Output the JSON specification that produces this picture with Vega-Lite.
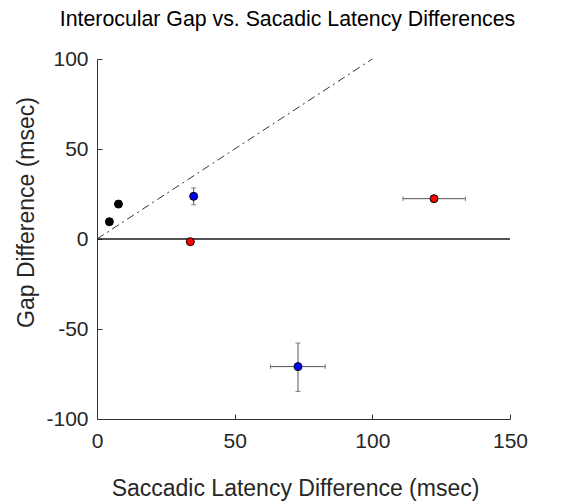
{
  "$schema": "https://vega.github.io/schema/vega-lite/v6.json",
  "width": 413,
  "height": 360,
  "autosize": {"type": "none"},
  "padding": {"left": 97, "top": 59, "right": 51, "bottom": 85},
  "background": "white",
  "title": {
    "text": "Interocular Gap vs. Sacadic Latency Differences",
    "font": "Liberation Sans",
    "fontSize": 21.3,
    "fontWeight": "normal",
    "color": "#000000",
    "anchor": "middle",
    "frame": "group",
    "baseline": "alphabetic",
    "offset": 34,
    "dx": -16,
    "dy": 33
  },
  "config": {
    "view": {"stroke": null},
    "font": "Liberation Sans",
    "axis": {
      "grid": false,
      "domainColor": "#333333",
      "domainWidth": 1,
      "tickColor": "#333333",
      "tickWidth": 1,
      "tickSize": -5,
      "labelFont": "Liberation Sans",
      "labelFontSize": 21,
      "labelColor": "#262626",
      "labelFlush": false,
      "labelOverlap": false,
      "titleFont": "Liberation Sans",
      "titleFontSize": 23,
      "titleFontWeight": "normal",
      "titleColor": "#262626"
    },
    "axisX": {
      "labelBaseline": "alphabetic",
      "labelPadding": 33,
      "titleBaseline": "alphabetic",
      "titleX": 198,
      "titleY": 76
    },
    "axisY": {
      "labelPadding": 14,
      "titleBaseline": "alphabetic",
      "titleX": -64,
      "titleY": 153
    }
  },
  "datasets": {
    "points": [
      {"group": "G1", "lat": 4.5, "gap": 9.6},
      {"group": "G1", "lat": 7.8, "gap": 19.4},
      {"group": "G2", "lat": 35.1, "gap": 23.7, "latLo": 34.0, "latHi": 36.2, "gapLo": 19.0, "gapHi": 28.4},
      {"group": "G3", "lat": 33.9, "gap": -1.5},
      {"group": "G3", "lat": 122.4, "gap": 22.4, "latLo": 111.1, "latHi": 133.8, "gapLo": 21.2, "gapHi": 23.6},
      {"group": "G2", "lat": 73.0, "gap": -70.9, "latLo": 63.0, "latHi": 82.9, "gapLo": -84.7, "gapHi": -57.8}
    ],
    "unity": [
      {"lat": 0, "gap": 0},
      {"lat": 100, "gap": 100}
    ],
    "zero": [
      {"lat": 0, "gap": 0},
      {"lat": 150, "gap": 0}
    ]
  },
  "layer": [
    {
      "data": {"name": "unity"},
      "mark": {"type": "line", "color": "#333333", "strokeWidth": 1, "strokeDash": [8, 4, 2, 4]},
      "encoding": {
        "x": {"field": "lat", "type": "quantitative", "title": "Saccadic Latency Difference (msec)", "scale": {"domain": [0, 150], "nice": false, "zero": false}},
        "y": {"field": "gap", "type": "quantitative", "title": "Gap Difference (msec)", "scale": {"domain": [-100, 100], "nice": false, "zero": false}}
      }
    },
    {
      "data": {"name": "zero"},
      "mark": {"type": "line", "color": "#1a1a1a", "strokeWidth": 1.6},
      "encoding": {
        "x": {"field": "lat", "type": "quantitative", "title": "Saccadic Latency Difference (msec)", "scale": {"domain": [0, 150], "nice": false, "zero": false}},
        "y": {"field": "gap", "type": "quantitative", "title": "Gap Difference (msec)", "scale": {"domain": [-100, 100], "nice": false, "zero": false}}
      }
    },
    {
      "data": {"name": "points"},
      "transform": [{"filter": "isValid(datum.gapLo)"}],
      "mark": {"type": "errorbar", "ticks": {"size": 5, "color": "#555555"}, "rule": {"color": "#555555", "strokeWidth": 1}},
      "encoding": {
        "x": {"field": "lat", "type": "quantitative", "title": "Saccadic Latency Difference (msec)", "scale": {"domain": [0, 150], "nice": false, "zero": false}},
        "y": {"field": "gapLo", "type": "quantitative", "title": "Gap Difference (msec)", "scale": {"domain": [-100, 100], "nice": false, "zero": false}},
        "y2": {"field": "gapHi"}
      }
    },
    {
      "data": {"name": "points"},
      "transform": [{"filter": "isValid(datum.latLo)"}],
      "mark": {"type": "errorbar", "ticks": {"size": 5, "color": "#555555"}, "rule": {"color": "#555555", "strokeWidth": 1}},
      "encoding": {
        "y": {"field": "gap", "type": "quantitative", "title": "Gap Difference (msec)", "scale": {"domain": [-100, 100], "nice": false, "zero": false}},
        "x": {"field": "latLo", "type": "quantitative", "title": "Saccadic Latency Difference (msec)", "scale": {"domain": [0, 150], "nice": false, "zero": false}},
        "x2": {"field": "latHi"}
      }
    },
    {
      "data": {"name": "points"},
      "mark": {"type": "point", "filled": true, "opacity": 1, "size": 64, "stroke": "#000000", "strokeWidth": 1},
      "encoding": {
        "x": {
          "field": "lat",
          "type": "quantitative",
          "title": "Saccadic Latency Difference (msec)",
          "scale": {"domain": [0, 150], "nice": false, "zero": false},
          "axis": {"tickCount": 4, "labelExpr": "'' + datum.value"}
        },
        "y": {
          "field": "gap",
          "type": "quantitative",
          "title": "Gap Difference (msec)",
          "scale": {"domain": [-100, 100], "nice": false, "zero": false},
          "axis": {"tickCount": 5, "labelExpr": "'' + datum.value"}
        },
        "fill": {
          "field": "group",
          "type": "nominal",
          "scale": {"domain": ["G1", "G2", "G3"], "range": ["#000000", "#0000ff", "#ff0000"]},
          "legend": null
        }
      }
    }
  ]
}
